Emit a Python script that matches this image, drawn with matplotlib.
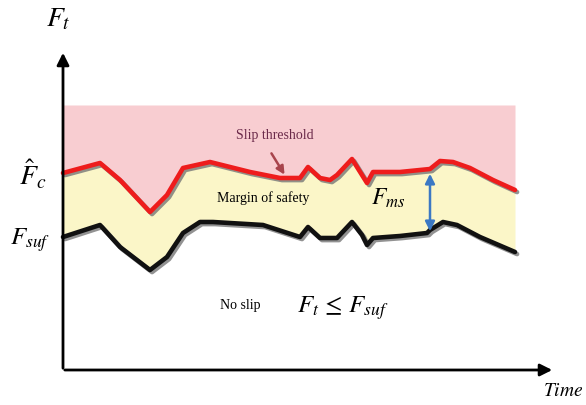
import matplotlib
matplotlib.use("Agg")
import matplotlib.pyplot as plt
import matplotlib.patheffects as pe
import numpy as np

plt.rcParams['mathtext.fontset'] = 'stix'
plt.rcParams['font.family'] = ['Liberation Serif', 'DejaVu Serif']

# time positions and force levels (pixel-derived units: t = x - 63, F = 370 - y)
t_red = [0, 37, 57, 87, 104, 120, 147, 187, 217, 237, 245, 257, 267, 274,
         289, 299, 304, 310, 337, 367, 377, 390, 407, 430, 452]
f_red = [197, 207, 190, 158, 175, 202, 208, 198, 192, 192, 203, 192, 190,
         195, 211, 195, 187, 198, 198, 201, 209, 208, 202, 190, 180]
t_blk = [0, 37, 57, 87, 104, 120, 137, 150, 200, 237, 245, 257, 274, 289,
         299, 304, 310, 337, 364, 367, 380, 394, 417, 452]
f_blk = [133, 145, 123, 100, 113, 137, 148, 148, 145, 133, 143, 132, 132,
         148, 135, 125, 132, 134, 137, 140, 148, 145, 133, 118]
top_band = 265
t_end = 452
arrow_t = 367

fig = plt.figure(figsize=(5.86, 4.05), dpi=100)
ax = fig.add_axes([0, 0, 1, 1])
ax.set_xlim(-63, 523)
ax.set_ylim(-35, 370)
ax.axis('off')

tt = np.linspace(0, t_end, 600)
red_i = np.interp(tt, t_red, f_red)
blk_i = np.interp(tt, t_blk, f_blk)

ax.fill_between(tt, red_i, top_band, color='#f8cdd1', lw=0)
ax.fill_between(tt, blk_i, red_i, color='#fbf6c8', lw=0)

shadow = [pe.SimpleLineShadow(offset=(1.5, -1.5), shadow_color='#777777', alpha=0.8), pe.Normal()]
ax.plot(t_red, f_red, color='#ee1c1c', lw=3.3, solid_capstyle='round',
        solid_joinstyle='round', path_effects=shadow)
ax.plot(t_blk, f_blk, color='#111111', lw=3.3, solid_capstyle='round',
        solid_joinstyle='round', path_effects=shadow)

# axes arrows
ax.annotate('', xy=(0, 320), xytext=(0, -1),
            arrowprops=dict(arrowstyle='-|>', color='black', lw=2, mutation_scale=18))
ax.annotate('', xy=(492, 0), xytext=(-1, 0),
            arrowprops=dict(arrowstyle='-|>', color='black', lw=2, mutation_scale=18))

# margin arrow
ax.annotate('', xy=(arrow_t, 199), xytext=(arrow_t, 136),
            arrowprops=dict(arrowstyle='<|-|>', color='#3b78c4', lw=1.8, mutation_scale=14))

# slip threshold pointer
ax.annotate('', xy=(223, 193), xytext=(207, 219),
            arrowprops=dict(arrowstyle='-|>', color='#a8444c', lw=1.8, mutation_scale=12))

ax.text(-5, 350, r'$F_t$', fontsize=20, ha='center', va='center')
ax.text(-30, 195, r'$\hat{F}_c$', fontsize=20, ha='center', va='center')
ax.text(-33, 130, r'$F_{suf}$', fontsize=18, ha='center', va='center')
ax.text(212, 235, 'Slip threshold', fontsize=10, color='#6b2a4a', ha='center', va='center')
ax.text(200, 172, 'Margin of safety', fontsize=10, ha='center', va='center')
ax.text(325, 172, r'$F_{ms}$', fontsize=17, ha='center', va='center')
ax.text(177, 65, 'No slip', fontsize=10, ha='center', va='center')
ax.text(280, 62, r'$F_t\,\leq\,F_{suf}$', fontsize=18, ha='center', va='center')
ax.text(520, -21, r'$Time$', fontsize=14, ha='right', va='center')

fig.savefig('out.png', dpi=100)
